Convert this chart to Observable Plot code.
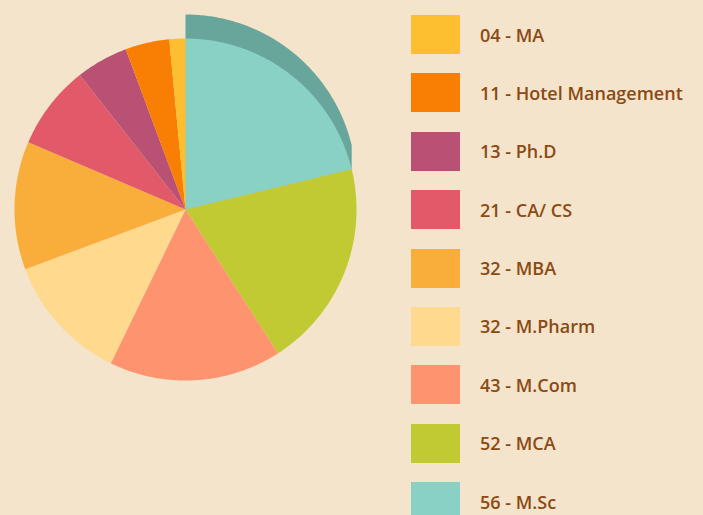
<!DOCTYPE html>
<html>
<head>
<meta charset="utf-8">
<script src="https://cdn.jsdelivr.net/npm/d3@7"></script>
<script src="https://cdn.jsdelivr.net/npm/@observablehq/plot@0.6"></script>
<style>
  html, body { margin: 0; padding: 0; background: #F4E4CB; }
  #wrap { position: relative; width: 703px; height: 515px; overflow: hidden; background: #F4E4CB; }
  #legend { position: absolute; left: 411px; top: 15px; font-family: "Open Sans", sans-serif; font-weight: 600; font-size: 18px; color: #8B4A14; }
  .item { display: flex; align-items: center; height: 39px; margin-bottom: 19.4px; }
  .sw { width: 49px; height: 39px; flex: none; }
  .lb { margin-left: 20px; white-space: nowrap; position: relative; top: 0px; }
</style>
</head>
<body>
<div id="wrap"><div id="chart"></div><div id="legend"></div></div>
<script>
// Legend order (top to bottom)
const categories = ["MA", "Hotel Management", "Ph.D", "CA/ CS", "MBA", "M.Pharm", "M.Com", "MCA", "M.Sc"];
const values = [4, 11, 13, 21, 32, 32, 43, 52, 56];
const labels = ["04 - MA", "11 - Hotel Management", "13 - Ph.D", "21 - CA/ CS", "32 - MBA", "32 - M.Pharm", "43 - M.Com", "52 - MCA", "56 - M.Sc"];
const colors = ["#FDBF2F", "#F87F03", "#B95174", "#E2596A", "#F9AD3B", "#FED98E", "#FE9370", "#C1CA32", "#89D0C5"];
const shadowColor = "#68A59A";

// Pie runs clockwise from 12 o'clock starting with the largest (M.Sc)
const order = d3.range(categories.length).reverse();
const arcs = d3.pie().sort(null).value(i => values[i])(order);

const R = 171;          // pixel radius
const lift = 24 / R;    // extrusion of the highlighted slice, in radius units

function arcPoints(a0, a1, dy) {
  const pts = [];
  const n = Math.max(2, Math.ceil((a1 - a0) / (Math.PI / 360)));
  for (let k = 0; k <= n; k++) {
    const a = a0 + (a1 - a0) * k / n;
    pts.push({x: Math.sin(a), y: Math.cos(a) + dy});
  }
  return pts;
}

const slices = [];
for (const a of arcs) {
  const name = categories[a.data];
  slices.push({name, x: 0, y: 0});
  for (const p of arcPoints(a.startAngle, a.endAngle, 0)) slices.push({name, ...p});
  slices.push({name, x: 0, y: 0});
}

// Extruded shadow behind the first slice (M.Sc)
const first = arcs[0];
const shadow = [{x: 0, y: lift}, ...arcPoints(first.startAngle, first.endAngle, lift),
  {x: Math.sin(first.endAngle), y: Math.cos(first.endAngle)}, {x: 0, y: 0}];

const cx = 185, cy = 209;
const chart = Plot.plot({
  width: 703,
  height: 515,
  margin: 0,
  style: {background: "transparent", overflow: "visible"},
  x: {domain: [-1, 1], range: [cx - R, cx + R], axis: null},
  y: {domain: [-1, 1], range: [cy + R, cy - R], axis: null},
  color: {domain: categories, range: colors},
  marks: [
    Plot.line(shadow, {x: "x", y: "y", fill: shadowColor, stroke: "none", curve: "linear"}),
    Plot.line(slices, {x: "x", y: "y", z: "name", fill: "name", stroke: "none", curve: "linear"})
  ]
});
document.getElementById("chart").appendChild(chart);

const legend = document.getElementById("legend");
categories.forEach((c, i) => {
  const item = document.createElement("div");
  item.className = "item";
  const sw = document.createElement("div");
  sw.className = "sw";
  sw.style.background = colors[i];
  const lb = document.createElement("div");
  lb.className = "lb";
  lb.textContent = labels[i];
  item.appendChild(sw);
  item.appendChild(lb);
  legend.appendChild(item);
});
</script>
</body>
</html>
